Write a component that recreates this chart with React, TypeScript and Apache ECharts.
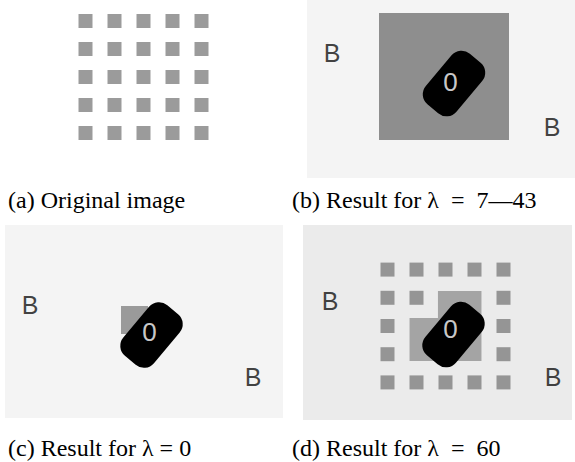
import React, { useEffect, useRef } from "react";
import * as echarts from "echarts";

// ---- Data (image coordinates) ----
// Lattice of squares, indices column/row 1..5
const squaresA: number[][] = [
  [1, 1], [2, 1], [3, 1], [4, 1], [5, 1],
  [1, 2], [2, 2], [3, 2], [4, 2], [5, 2],
  [1, 3], [2, 3], [3, 3], [4, 3], [5, 3],
  [1, 4], [2, 4], [3, 4], [4, 4], [5, 4],
  [1, 5], [2, 5], [3, 5], [4, 5], [5, 5],
];
const squaresD: number[][] = [
  [1, 1], [2, 1], [3, 1], [4, 1], [5, 1],
  [1, 2], [2, 2], [5, 2],
  [1, 3], [5, 3],
  [1, 4], [5, 4],
  [1, 5], [2, 5], [3, 5], [4, 5], [5, 5],
];
// merged grey region of panel (d), lattice units
const mergedRegionD: number[][] = [
  [2.74, 1.76], [4.24, 1.76], [4.24, 4.24], [1.76, 4.24], [1.76, 2.72], [2.74, 2.72],
];
// page-coordinate elements [x0, y0, x1, y1]
const stippleSparse: number[][] = [[307, 0, 575, 178], [5, 225, 283, 418]];
const stippleDense: number[][] = [[303, 225, 572, 420]];
const graySquareB: number[][] = [[379, 13, 509, 140]];
const grayPatchC: number[][] = [[121, 306, 148, 334]];
// blob centres [x, y]
const blobs: number[][] = [[454, 83.5], [151.5, 335], [453.5, 334.5]];
const zeroLabels: number[][] = [[450.5, 81.5], [149.5, 331.5], [450.5, 329]];
const bLabels: number[][] = [
  [332, 52.5], [552, 127], [30, 305], [253, 377], [330, 301], [553, 377],
];
const captions: string[] = [
  "(a) Original image",
  "(b) Result for λ\u2002=\u20027—43",
  "(c) Result for λ = 0",
  "(d) Result for λ\u2002=\u200260",
];

const rectSeries = (data: number[][], fill: string, z: number) => ({
  type: "custom",
  xAxisIndex: 0,
  yAxisIndex: 0,
  z,
  silent: true,
  data,
  renderItem: (_p: any, api: any) => {
    const p0 = api.coord([api.value(0), api.value(1)]);
    const p1 = api.coord([api.value(2), api.value(3)]);
    return {
      type: "rect",
      shape: { x: p0[0], y: p0[1], width: p1[0] - p0[0], height: p1[1] - p0[1] },
      style: { fill },
    };
  },
});

const labelSeries = (data: number[][], text: string, color: string, size: number) => ({
  type: "scatter",
  xAxisIndex: 0,
  yAxisIndex: 0,
  z: 10,
  silent: true,
  symbolSize: 1,
  itemStyle: { color: "rgba(0,0,0,0)" },
  label: {
    show: true,
    position: "inside",
    formatter: text,
    color,
    fontSize: size,
    fontFamily: "Liberation Sans",
  },
  data,
});

const BLOB_ANGLE = (50 * Math.PI) / 180;

export default function App() {
  const ref = useRef<HTMLDivElement>(null);
  useEffect(() => {
    document.body.style.margin = "0";
    if (!ref.current) return;
    const chart = echarts.init(ref.current, undefined, { renderer: "svg" });
    const hiddenAxis = (gridIndex: number, min: number, max: number, inverse = false) => ({
      type: "value",
      gridIndex,
      min,
      max,
      inverse,
      show: false,
    });
    chart.setOption({
      animation: false,
      backgroundColor: "#fff",
      grid: [
        { left: 0, top: 0, width: 575, height: 462 },
        { left: 71, top: 7, width: 145, height: 140 },
        { left: 373, top: 255.5, width: 145, height: 141 },
      ],
      xAxis: [hiddenAxis(0, 0, 575), hiddenAxis(1, 0.5, 5.5), hiddenAxis(2, 0.5, 5.5)],
      yAxis: [
        hiddenAxis(0, 0, 462, true),
        hiddenAxis(1, 0.5, 5.5, true),
        hiddenAxis(2, 0.5, 5.5, true),
      ],
      series: [
        rectSeries(stippleSparse, "#f4f4f4", 1),
        rectSeries(stippleDense, "#ebebeb", 1),
        rectSeries(graySquareB, "#8e8e8e", 2),
        rectSeries(grayPatchC, "#9a9a9a", 2),
        {
          type: "custom",
          xAxisIndex: 2,
          yAxisIndex: 2,
          z: 2,
          silent: true,
          data: [mergedRegionD.flat()],
          renderItem: (_p: any, api: any) => {
            const pts: number[][] = [];
            for (let i = 0; i < mergedRegionD.length; i++) {
              pts.push(api.coord([api.value(2 * i), api.value(2 * i + 1)]));
            }
            return { type: "polygon", shape: { points: pts }, style: { fill: "#a4a4a4" } };
          },
        },
        {
          type: "scatter",
          xAxisIndex: 1,
          yAxisIndex: 1,
          z: 3,
          silent: true,
          symbol: "rect",
          symbolSize: 14,
          itemStyle: { color: "#828282" },
          data: squaresA,
        },
        {
          type: "scatter",
          xAxisIndex: 2,
          yAxisIndex: 2,
          z: 3,
          silent: true,
          symbol: "rect",
          symbolSize: 14,
          itemStyle: { color: "#808080" },
          data: squaresD,
        },
        {
          type: "custom",
          xAxisIndex: 0,
          yAxisIndex: 0,
          z: 5,
          silent: true,
          data: blobs,
          renderItem: (_p: any, api: any) => {
            const c = api.coord([api.value(0), api.value(1)]);
            return {
              type: "rect",
              x: c[0],
              y: c[1],
              rotation: BLOB_ANGLE,
              shape: { x: -33, y: -20, width: 66, height: 40, r: 13 },
              style: { fill: "#000" },
            };
          },
        },
        labelSeries(zeroLabels, "0", "#fff", 26),
        labelSeries(bLabels, "B", "#111", 25),
      ],
      graphic: captions.map((text, i) => ({
        type: "text",
        z: 20,
        style: {
          text,
          x: i % 2 === 0 ? 8 : 292,
          y: i < 2 ? 200 : 448,
          fontSize: 24,
          fontFamily: "Liberation Serif",
          fill: "#000",
          align: "left",
          verticalAlign: "middle",
        },
      })),
    });
    return () => chart.dispose();
  }, []);
  return <div ref={ref} style={{ width: 575, height: 462 }} />;
}
